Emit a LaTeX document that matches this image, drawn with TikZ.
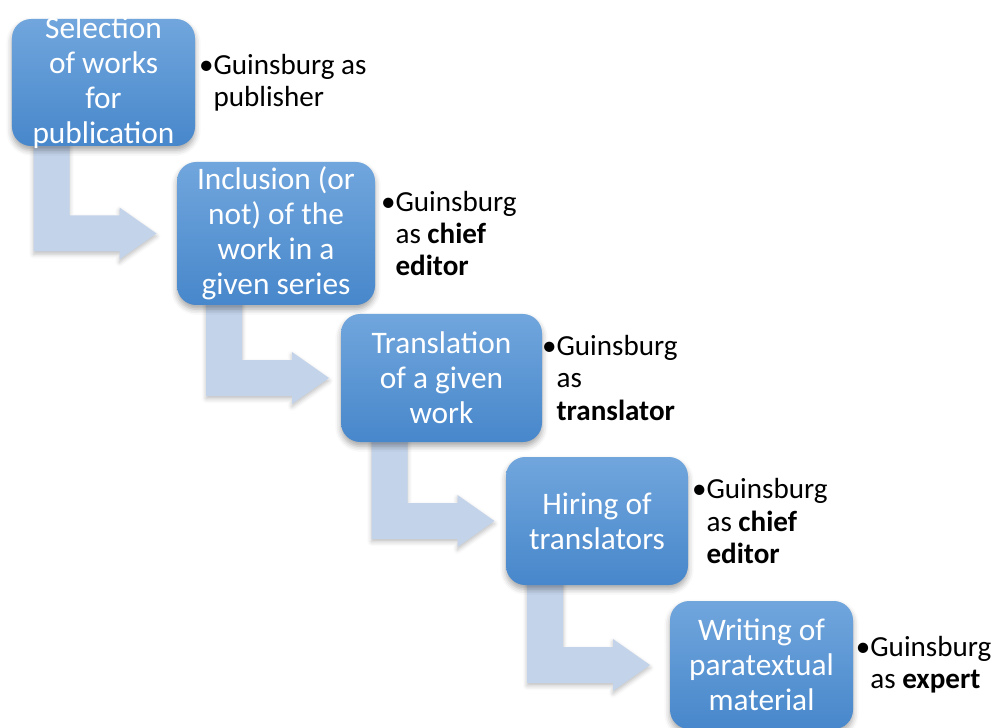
\documentclass[tikz,border=0pt]{standalone}
\usepackage{fontspec}
\setmainfont{Carlito}
\usetikzlibrary{positioning,calc,backgrounds,shadows.blur}
\definecolor{boxtop}{HTML}{71A6DD}
\definecolor{boxbot}{HTML}{4787CB}
\definecolor{bendfill}{HTML}{C3D3EA}

\begin{document}
\begin{tikzpicture}[
    stepbox/.style={rectangle, rounded corners=0.48cm, inner sep=0pt,
        top color=boxtop, bottom color=boxbot,
        blur shadow={shadow xshift=0pt, shadow yshift=-3pt, shadow blur radius=4pt, shadow opacity=35}},
    boxtext/.style={align=center, inner sep=0pt, text=white,
        font=\fontsize{22.3}{24.8}\selectfont},
    note/.style={align=left, inner sep=0pt, anchor=west,
        font=\fontsize{20.7}{23}\selectfont},
    bendarrow/.style={fill=bendfill,
        blur shadow={shadow xshift=0pt, shadow yshift=-2pt, shadow blur radius=3pt, shadow opacity=25}}
  ]
    \useasboundingbox (0,0) rectangle (24.825,18.175);
    % the five steps
    \node[stepbox, minimum width=4.575cm, minimum height=3.175cm] (sel) at (2.5875,16.1125) {};
    \node[stepbox, minimum width=4.95cm, minimum height=3.575cm] (incl) at (6.9,12.3375) {};
    \node[stepbox, minimum width=5.025cm, minimum height=3.2cm] (trans) at (11.0375,8.725) {};
    \node[stepbox, minimum width=4.55cm, minimum height=3.2cm] (hire) at (14.925,5.15) {};
    \node[stepbox, minimum width=4.575cm, minimum height=3.2cm] (write) at (19.0375,1.55) {};
    \node[boxtext] (sel-t) at (sel) {Selection\\of works\\for\\publication};
    \node[boxtext] (incl-t) at (incl) {Inclusion (or\\not) of the\\work in a\\given series};
    \node[boxtext] (trans-t) at (trans) {Translation\\of a given\\work};
    \node[boxtext] (hire-t) at (hire) {Hiring of\\translators};
    \node[boxtext] (write-t) at (write) {Writing of\\paratextual\\material};
    % roles
    \node[note, right=0.45cm of sel] (sel-n) {\llap{•}Guinsburg as\\publisher};
    \node[note, right=0.5cm of incl] (incl-n) {\llap{•}Guinsburg\\as \textbf{chief}\\\textbf{editor}};
    \node[note, right=0.35cm of trans] (trans-n) {\llap{•}Guinsburg\\as\\\textbf{translator}};
    \node[note, right=0.45cm of hire] (hire-n) {\llap{•}Guinsburg\\as \textbf{chief}\\\textbf{editor}};
    \node[note, right=0.42cm of write] (write-n) {\llap{•}Guinsburg\\as \textbf{expert}};
    % bent arrows behind the boxes
    \begin{scope}[on background layer]
      \foreach \a/\b in {sel/incl, incl/trans, trans/hire, hire/write}
        \fill[bendarrow] let \p1=(\a.south), \p2=(\b.west) in
          ({\x1-1.75cm},{\y1+0.2cm}) -- ({\x1-0.85cm},{\y1+0.2cm})
          -- ({\x1-0.85cm},{\y2+0.45cm}) -- ({\x1+0.4cm},{\y2+0.45cm})
          -- ({\x1+0.4cm},{\y2+0.65cm}) -- ({\x1+1.325cm},\y2)
          -- ({\x1+0.4cm},{\y2-0.65cm}) -- ({\x1+0.4cm},{\y2-0.45cm})
          -- ({\x1-1.75cm},{\y2-0.45cm}) -- cycle;
    \end{scope}
\end{tikzpicture}
\end{document}
